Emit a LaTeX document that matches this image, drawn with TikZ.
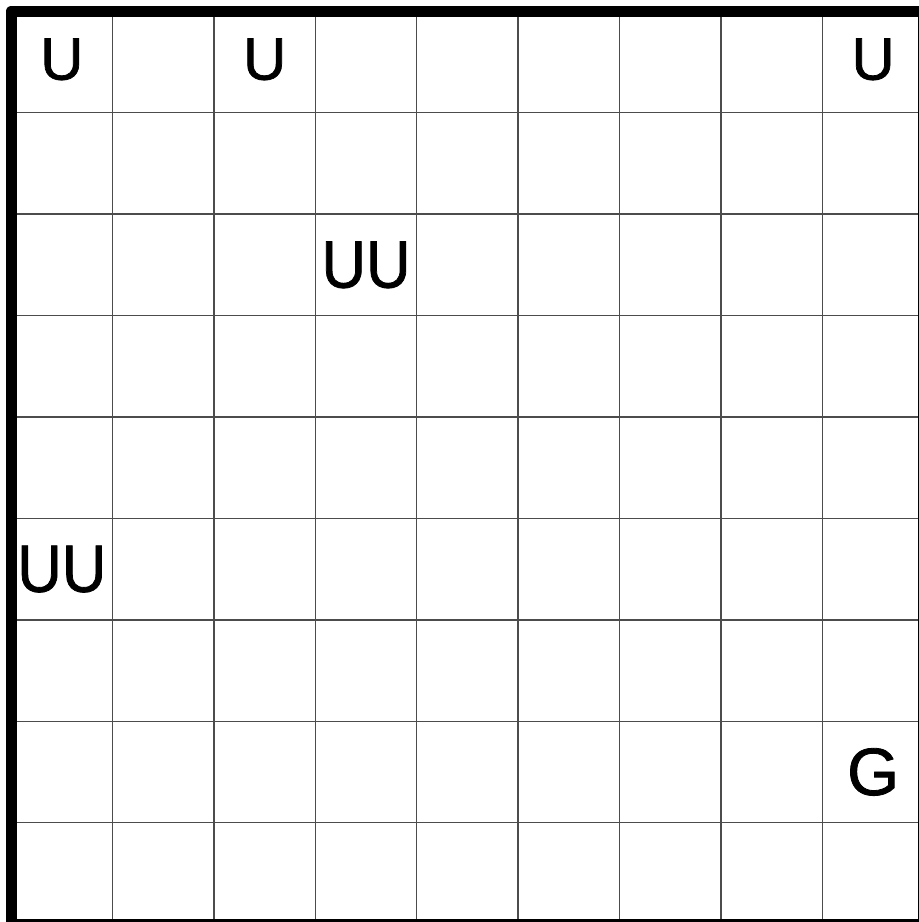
\documentclass[tikz,border=0pt]{standalone}
\usepackage{fontspec}
\setmainfont{Liberation Sans}
\newfontfamily\boardfont[FakeBold=1.2]{Liberation Sans}
\usetikzlibrary{positioning}

\begin{document}
\begin{tikzpicture}[
  gridline/.style={draw=black!70, line width=0.4pt},
  boardframe/.style={draw=black, line width=3.1pt, line join=round},
  single/.style={font=\boardfont\fontsize{16.8}{18}\selectfont, inner sep=0pt},
  double/.style={font=\boardfont\fontsize{18.8}{20}\selectfont, inner sep=0pt},
]
\useasboundingbox (-0.110,0.112) rectangle (8.943,-8.980);
\foreach \i in {1,...,8} {
  \draw[gridline] (\i,0) -- (\i,-9);
  \draw[gridline] (0,-\i) -- (9,-\i);
}
\draw[boardframe] (0,0) rectangle (9,-9);
\node[single] (ua) at (0.5,-0.473) {U};
\node[single] (ub) at (2.5,-0.473) {U};
\node[single] (uc) at (8.5,-0.473) {U};
\node[double, xscale=0.92] (uud) at (3.5,-2.5) {UU};
\node[double, xscale=0.92] (uue) at (0.5,-5.5) {UU};
\node[double] (gf) at (8.5,-7.5) {G};
\end{tikzpicture}
\end{document}
